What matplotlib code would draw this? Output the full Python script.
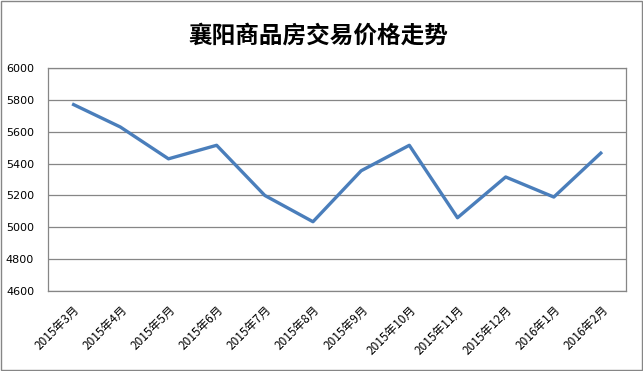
import matplotlib.pyplot as plt
from matplotlib.patches import Rectangle

plt.rcParams['font.family'] = ['Noto Sans CJK SC', 'DejaVu Sans']

# 襄阳商品房成交均价 (元/平方米)
months = ['2015年3月', '2015年4月', '2015年5月', '2015年6月', '2015年7月', '2015年8月',
          '2015年9月', '2015年10月', '2015年11月', '2015年12月', '2016年1月', '2016年2月']
prices = [5775, 5630, 5430, 5515, 5200, 5035, 5355, 5515, 5060, 5316, 5190, 5473]
yticks = [4600, 4800, 5000, 5200, 5400, 5600, 5800, 6000]

fig = plt.figure(figsize=(6.43, 3.71), dpi=100)
ax = fig.add_axes([0.0747, 0.2156, 0.899, 0.601])

x = range(len(months))
ax.plot(x, prices, color='#4a7ebb', lw=2.4, solid_capstyle='butt')

ax.set_xlim(-0.5, len(months) - 0.5)
ax.set_ylim(4600, 6000)
ax.set_yticks(yticks)
ax.set_yticklabels([str(v) for v in yticks], fontsize=8, family='DejaVu Sans')
ax.set_xticks(list(x))
ax.set_xticklabels(months, fontsize=8.5, rotation=45, ha='right', va='top',
                   rotation_mode='anchor')
ax.tick_params(axis='both', length=0)
ax.tick_params(axis='x', pad=9)
ax.tick_params(axis='y', pad=10)
ax.grid(axis='y', color='#868686', lw=0.9)
ax.set_axisbelow(True)
for s in ax.spines.values():
    s.set_color('#868686')
    s.set_linewidth(0.9)

fig.text(0.496, 0.905, '襄阳商品房交易价格走势', ha='center', va='center',
         fontsize=17, fontweight='bold')

# outer chart border
fig.patches.append(Rectangle((0.002, 0.003), 0.996, 0.994, transform=fig.transFigure,
                             fill=False, edgecolor='#868686', lw=1))

fig.savefig('out.png', dpi=100)
